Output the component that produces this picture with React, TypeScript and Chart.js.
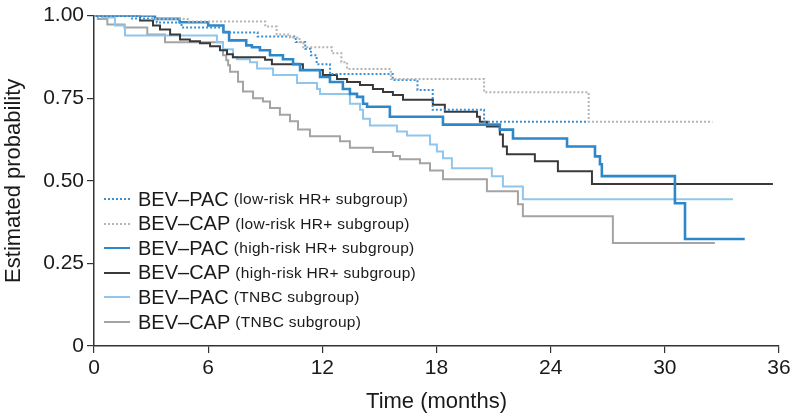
import React, { useEffect, useRef } from "react";
import { Chart, registerables } from "chart.js";
Chart.register(...registerables);

const xTickValues = [0, 6, 12, 18, 24, 30, 36];
const yTickValues = [0, 0.25, 0.5, 0.75, 1];
const xTitle = "Time (months)";
const yTitle = "Estimated probability";

// BEV–PAC low-risk HR+ (dotted blue)
const lowPacT = [0, 2.0, 3.3, 4.6, 6.8, 8.6, 10.6, 11.1, 11.4, 11.7, 12.4, 15.7, 17.0, 17.8, 20.5, 26.0];
const lowPacS = [1.0, 0.991, 0.979, 0.964, 0.949, 0.937, 0.92, 0.9, 0.88, 0.853, 0.823, 0.805, 0.775, 0.715, 0.679, 0.679];
// BEV–CAP low-risk HR+ (dotted gray)
const lowCapT = [0, 3.0, 5.0, 9.0, 9.6, 10.3, 10.8, 11.0, 12.5, 13.0, 13.3, 15.6, 20.5, 26.0, 32.5];
const lowCapS = [1.0, 0.99, 0.982, 0.967, 0.943, 0.934, 0.919, 0.904, 0.886, 0.859, 0.838, 0.808, 0.768, 0.679, 0.679];
// BEV–PAC high-risk HR+ (solid blue)
const highPacT = [0, 3.2, 4.5, 6.0, 6.8, 7.1, 8.0, 8.3, 8.72, 9.25, 9.93, 10.46, 10.83, 11.88, 12.4, 13.08, 13.45, 13.82, 14.14, 14.35, 15.55, 18.34, 21.33, 22.02, 24.86, 26.33, 26.59, 26.69, 30.53, 31.06, 34.2];
const highPacS = [1.0, 0.99, 0.98, 0.97, 0.95, 0.925, 0.91, 0.904, 0.895, 0.88, 0.868, 0.853, 0.835, 0.814, 0.799, 0.778, 0.763, 0.754, 0.733, 0.724, 0.694, 0.67, 0.655, 0.628, 0.604, 0.574, 0.55, 0.514, 0.432, 0.324, 0.324];
// BEV–CAP high-risk HR+ (dark)
const highCapT = [0, 2.42, 3.1, 3.47, 4.0, 4.52, 5.04, 5.57, 6.1, 6.62, 6.99, 7.3, 8.99, 9.35, 10.98, 12.03, 12.77, 13.3, 13.98, 14.66, 15.19, 15.71, 16.24, 17.81, 18.44, 20.13, 20.28, 20.65, 21.33, 21.49, 21.7, 23.17, 24.38, 26.17, 35.68];
const highCapS = [1.0, 0.985, 0.97, 0.958, 0.943, 0.928, 0.922, 0.916, 0.907, 0.895, 0.883, 0.874, 0.866, 0.853, 0.835, 0.82, 0.808, 0.799, 0.79, 0.778, 0.769, 0.76, 0.745, 0.73, 0.709, 0.694, 0.679, 0.664, 0.64, 0.604, 0.58, 0.559, 0.529, 0.49, 0.49];
// BEV–PAC TNBC (light blue)
const tnbcPacT = [0, 0.42, 1.1, 1.63, 6.46, 6.78, 7.3, 7.51, 8.2, 8.57, 9.41, 10.67, 11.72, 11.88, 13.45, 13.98, 14.14, 14.5, 15.92, 16.45, 17.66, 18.02, 18.34, 18.81, 20.91, 21.49, 22.54, 33.58];
const tnbcPacS = [1.0, 0.994, 0.97, 0.94, 0.919, 0.898, 0.874, 0.868, 0.859, 0.84, 0.82, 0.796, 0.778, 0.763, 0.733, 0.715, 0.688, 0.667, 0.649, 0.637, 0.61, 0.589, 0.568, 0.538, 0.514, 0.483, 0.444, 0.444];
// BEV–CAP TNBC (gray)
const tnbcCapT = [0, 0.2, 0.7, 1.6, 2.8, 3.73, 6.78, 6.95, 7.05, 7.15, 7.57, 7.83, 8.36, 8.88, 9.25, 9.77, 10.3, 10.72, 11.35, 12.93, 13.45, 14.66, 15.71, 16.08, 17.13, 17.66, 18.34, 20.65, 22.28, 22.54, 27.27, 32.63];
const tnbcCapS = [1.0, 0.99, 0.973, 0.964, 0.943, 0.919, 0.88, 0.865, 0.85, 0.83, 0.8, 0.77, 0.75, 0.74, 0.72, 0.7, 0.68, 0.655, 0.635, 0.62, 0.6, 0.587, 0.575, 0.565, 0.553, 0.531, 0.505, 0.468, 0.429, 0.393, 0.312, 0.312];

const legendMain = ["BEV\u2013PAC", "BEV\u2013CAP", "BEV\u2013PAC", "BEV\u2013CAP", "BEV\u2013PAC", "BEV\u2013CAP"];
const legendSub = [
  "(low-risk HR+ subgroup)",
  "(low-risk HR+ subgroup)",
  "(high-risk HR+ subgroup)",
  "(high-risk HR+ subgroup)",
  "(TNBC subgroup)",
  "(TNBC subgroup)",
];

const styles = [
  { color: "#3b8fd2", width: 2, dash: [2, 2] },
  { color: "#b4b4b4", width: 2, dash: [2, 2] },
  { color: "#2e87c9", width: 2.6, dash: [] as number[] },
  { color: "#3a3a3a", width: 2, dash: [] as number[] },
  { color: "#90c6ec", width: 2, dash: [] as number[] },
  { color: "#a4a4a4", width: 2, dash: [] as number[] },
];

const seriesT = [lowPacT, lowCapT, highPacT, highCapT, tnbcPacT, tnbcCapT];
const seriesS = [lowPacS, lowCapS, highPacS, highCapS, tnbcPacS, tnbcCapS];

const FONT = "'Liberation Sans', Arial, Helvetica, sans-serif";

export default function App() {
  const ref = useRef<HTMLCanvasElement | null>(null);
  useEffect(() => {
    if (!ref.current) return;
    const datasets = seriesT.map((ts, i) => ({
      label: legendMain[i] + " " + legendSub[i],
      data: ts.map((t, j) => ({ x: t, y: seriesS[i][j] })),
      borderColor: styles[i].color,
      backgroundColor: styles[i].color,
      borderWidth: styles[i].width,
      borderDash: styles[i].dash,
      stepped: "before" as const,
      pointRadius: 0,
      fill: false,
      order: [2, 1, 3, 4, 5, 6][i],
    }));
    const chart = new Chart(ref.current, {
      type: "line",
      data: { datasets },
      options: {
        animation: false,
        responsive: false,
        layout: { padding: { top: 13, right: 15, left: 0, bottom: 0 } },
        plugins: { legend: { display: false }, tooltip: { enabled: false } },
        scales: {
          x: {
            type: "linear",
            min: 0,
            max: 36,
            afterFit: (s: any) => { s.height = 70; },
            afterBuildTicks: (s: any) => { s.ticks = xTickValues.map((v) => ({ value: v })); },
            ticks: { font: { family: FONT, size: 21 }, color: "#1a1a1a", padding: 3, maxRotation: 0, autoSkip: false },
            grid: { drawOnChartArea: false, drawTicks: true, tickLength: 7, color: "#333", lineWidth: 1.2 },
            border: { display: true, color: "#333", width: 1.5 },
            title: { display: true, text: xTitle, font: { family: FONT, size: 22 }, color: "#1a1a1a", padding: { top: 0, bottom: 1 } },
          },
          y: {
            type: "linear",
            min: 0,
            max: 1,
            afterFit: (s: any) => { s.width = 94; },
            afterBuildTicks: (s: any) => { s.ticks = yTickValues.map((v) => ({ value: v })); },
            ticks: {
              font: { family: FONT, size: 21 },
              color: "#1a1a1a",
              padding: 3,
              callback: (v: any) => (Number(v) === 0 ? "0" : Number(v).toFixed(2)),
            },
            grid: { drawOnChartArea: false, drawTicks: true, tickLength: 7, color: "#333", lineWidth: 1.2 },
            border: { display: true, color: "#333", width: 1.5 },
            title: { display: true, text: yTitle, font: { family: FONT, size: 22 }, color: "#1a1a1a", padding: { top: 1, bottom: 0 } },
          },
        },
      },
    });
    return () => chart.destroy();
  }, []);

  return (
    <div style={{ position: "fixed", left: 0, top: 0, width: 794, height: 416, background: "#fff" }}>
      <canvas ref={ref} width={794} height={416} style={{ width: 794, height: 416, display: "block" }} />
      {legendMain.map((m, i) => (
        <div
          key={i}
          style={{
            position: "absolute",
            left: 104,
            top: 199 + i * 24.6 - 12,
            height: 24,
            display: "flex",
            alignItems: "center",
            fontFamily: FONT,
            color: "#1a1a1a",
            whiteSpace: "nowrap",
          }}
        >
          <div
            style={{
              width: 26,
              height: 0,
              borderTop: `${styles[i].width === 2.6 ? 2.5 : 2}px ${styles[i].dash.length ? "dotted" : "solid"} ${styles[i].color}`,
              marginRight: 8,
            }}
          />
          <span style={{ fontSize: 20 }}>{m}</span>
          <span style={{ fontSize: 15.5, marginLeft: 5, letterSpacing: 0.3 }}>{legendSub[i]}</span>
        </div>
      ))}
    </div>
  );
}
